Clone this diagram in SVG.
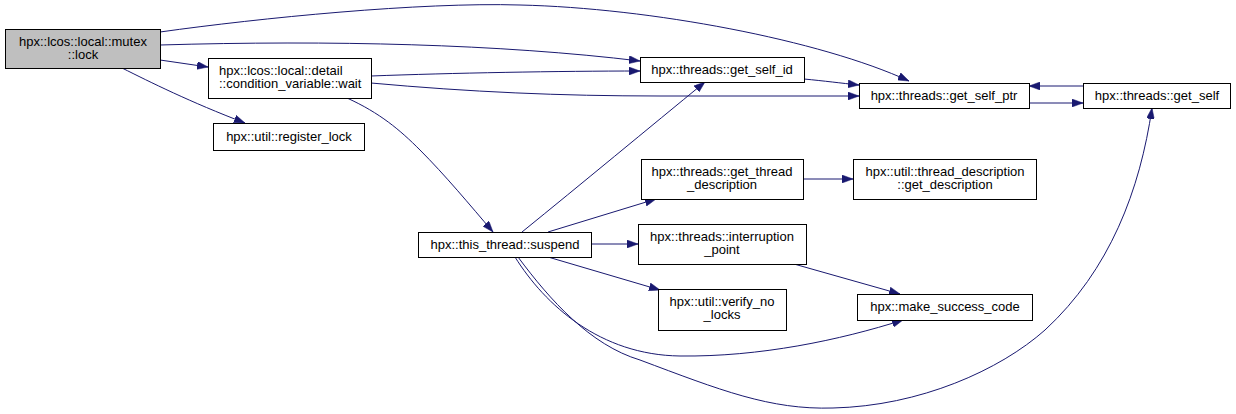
<svg xmlns="http://www.w3.org/2000/svg" width="1236" height="414" viewBox="0 0 1236 414">
<style>
.node rect{fill:#ffffff;stroke:#000000;stroke-width:1}
.node.cur rect{fill:#bfbfbf}
.node text{font-family:"Liberation Sans",Arial,sans-serif;font-size:13px;fill:#000000;text-anchor:middle}
.node text.l{text-anchor:start}
.edges path{fill:none;stroke:#191970;stroke-width:1;marker-end:url(#arr)}
</style>
<defs>
<marker id="arr" viewBox="0 0 11 8" refX="11" refY="4" markerWidth="11" markerHeight="8" markerUnits="userSpaceOnUse" orient="auto">
<path d="M0,0 L11,4 L0,8 z" fill="#191970" stroke="#191970" stroke-width="0.5"/>
</marker>
</defs>
<rect width="1236" height="414" fill="#ffffff"/>
<g class="edges">
<path d="M160,32 C260,18 420,2 520,5 C650,8 820,40 909,81"/>
<path d="M160,45 C330,40 500,44 640,61"/>
<path d="M160,60 L208,67"/>
<path d="M122,68 C150,82 190,102 245,123"/>
<path d="M371,76 C450,73 560,71 640,71"/>
<path d="M371,83 C470,92 560,96 660,96 L859,96"/>
<path d="M804,79 C825,81 840,83 859,85"/>
<path d="M1029,103 L1083,103"/>
<path d="M1083,86 L1029,86"/>
<path d="M347,98 C380,113 400,130 420,150 C445,175 470,205 493,232"/>
<path d="M522,232 C580,185 650,127 705,82"/>
<path d="M548,232 L656,199"/>
<path d="M591,244 L638,244"/>
<path d="M548,257 L660,290"/>
<path d="M794,264 L900,294"/>
<path d="M803,179 L853,179"/>
<path d="M515,257 C545,305 600,355 680,356 C760,357 840,340 903,320"/>
<path d="M518,257 C550,300 590,345 640,360 C720,390 770,410 833,408 C920,406 1000,370 1045,330 C1110,270 1140,190 1152,108"/>
</g>
<g id="n_mutex_lock" class="node cur">
<rect x="5.5" y="29.5" width="155" height="39"/>
<text x="83" y="46">hpx::lcos::local::mutex</text>
<text x="83" y="59">::lock</text>
</g>
<g id="n_cv_wait" class="node">
<rect x="208.5" y="58.5" width="163" height="40"/>
<text class="l" x="219" y="75">hpx::lcos::local::detail</text>
<text class="l" x="219" y="88">::condition_variable::wait</text>
</g>
<g id="n_register_lock" class="node">
<rect x="213.5" y="123.5" width="151" height="27"/>
<text x="289" y="141">hpx::util::register_lock</text>
</g>
<g id="n_get_self_id" class="node">
<rect x="640.5" y="57.5" width="164" height="25"/>
<text x="722" y="74">hpx::threads::get_self_id</text>
</g>
<g id="n_get_self_ptr" class="node">
<rect x="859.5" y="83.5" width="170" height="25"/>
<text x="944" y="100">hpx::threads::get_self_ptr</text>
</g>
<g id="n_get_self" class="node">
<rect x="1083.5" y="83.5" width="147" height="25"/>
<text x="1157" y="100">hpx::threads::get_self</text>
</g>
<g id="n_get_description" class="node">
<rect x="853.5" y="159.5" width="183" height="40"/>
<text x="945" y="176">hpx::util::thread_description</text>
<text x="945" y="189">::get_description</text>
</g>
<g id="n_suspend" class="node">
<rect x="418.5" y="232.5" width="173" height="25"/>
<text x="505" y="249">hpx::this_thread::suspend</text>
</g>
<g id="n_get_thread_description" class="node">
<rect x="641.5" y="159.5" width="162" height="40"/>
<text x="722" y="176">hpx::threads::get_thread</text>
<text x="722" y="189">_description</text>
</g>
<g id="n_interruption_point" class="node">
<rect x="638.5" y="224.5" width="168" height="40"/>
<text x="722" y="241">hpx::threads::interruption</text>
<text x="722" y="254">_point</text>
</g>
<g id="n_verify_no_locks" class="node">
<rect x="658.5" y="289.5" width="128" height="41"/>
<text x="722" y="306">hpx::util::verify_no</text>
<text x="722" y="319">_locks</text>
</g>
<g id="n_make_success_code" class="node">
<rect x="857.5" y="294.5" width="175" height="26"/>
<text x="945" y="311">hpx::make_success_code</text>
</g>
</svg>
